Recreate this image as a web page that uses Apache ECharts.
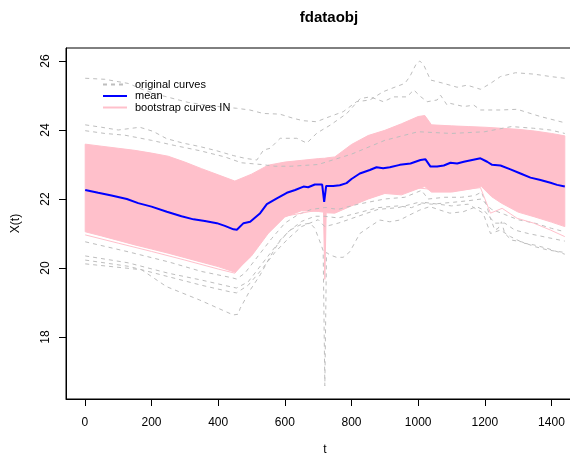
<!DOCTYPE html>
<html><head><meta charset="utf-8">
<script src="https://cdn.jsdelivr.net/npm/echarts@6/dist/echarts.min.js"></script>
<style>html,body{margin:0;padding:0;background:#fff}#c{width:570px;height:455px}</style>
</head><body><div id="c"></div>
<script>
// ---- tick labels ----
const xTicks = [0,200,400,600,800,1000,1200,1400];
const yTicks = [18,20,22,24,26];

// ---- mean curve ----
const meanT = [1,40,80,126,160,200,246,290,326,360,396,420,446,456,476,496,526,546,576,606,631,656,670,690,712,718,724,745,765,785,800,825,855,875,895,915,945,977,1007,1022,1037,1057,1077,1097,1117,1137,1162,1187,1207,1222,1247,1277,1307,1337,1367,1397,1417,1440];
const meanV = [22.26,22.18,22.10,22.00,21.88,21.78,21.63,21.50,21.41,21.36,21.30,21.22,21.12,21.11,21.30,21.34,21.59,21.85,22.02,22.18,22.26,22.36,22.34,22.42,22.42,21.92,22.38,22.38,22.40,22.46,22.58,22.74,22.84,22.92,22.89,22.92,22.99,23.03,23.13,23.15,22.94,22.94,22.97,23.05,23.03,23.08,23.13,23.18,23.08,22.99,22.97,22.86,22.74,22.62,22.55,22.47,22.41,22.36];

// ---- bootstrap band envelope ----
const bandTopT = [1,50,100,150,200,250,300,350,400,450,500,550,600,650,700,716,720,724,750,800,850,900,950,1000,1020,1040,1100,1150,1200,1250,1300,1350,1400,1440];
const bandTopV = [23.59,23.53,23.47,23.41,23.33,23.24,23.07,22.88,22.70,22.52,22.72,22.98,23.07,23.12,23.17,23.18,23.18,23.19,23.22,23.58,23.84,23.99,24.18,24.39,24.42,24.15,24.12,24.10,24.08,24.05,24.02,23.97,23.90,23.83];
const bandBotT = [1,50,100,150,200,250,300,350,400,450,500,550,600,650,700,716,720,724,750,800,850,900,950,1000,1020,1040,1100,1150,1190,1220,1250,1300,1350,1400,1440];
const bandBotV = [21.05,20.93,20.80,20.67,20.55,20.43,20.30,20.17,20.04,19.88,20.35,21.00,21.48,21.66,21.64,21.62,19.67,21.60,21.59,21.80,22.00,22.16,22.12,22.30,22.36,22.20,22.20,22.28,22.36,22.07,21.88,21.62,21.48,21.33,21.20];

// ---- one bootstrap curve that leaves the band ----
const pinkLowT = [1,100,200,300,400,450,500,550,600,700,800,900,1000,1100,1187,1217,1252,1297,1347,1397,1440];
const pinkLowV = [20.96,20.72,20.48,20.23,19.97,19.85,20.40,21.05,21.50,21.68,21.85,22.18,22.32,22.22,22.33,21.59,21.73,21.44,21.30,21.10,20.91];

// ---- original curves (visible ones) ----
const origU1T = [1,60,130,180,230,310,380,455,495,535,585,625,655,695,735,775,815,855,895,935,960,975,995,1005,1017,1037,1077,1117,1147,1187,1217,1247,1292,1347,1397,1440];
const origU1V = [25.50,25.47,25.35,25.15,25.00,24.80,24.70,24.63,24.58,24.48,24.46,24.34,24.27,24.24,24.39,24.53,24.82,24.87,25.11,25.26,25.35,25.55,25.93,26.00,25.88,25.45,25.35,25.24,25.30,25.18,25.35,25.55,25.66,25.62,25.55,25.50];
const origU2T = [1,50,100,165,205,245,295,345,395,445,480,516,536,556,586,636,666,696,736,786,826,856,896,926,966,987,1007,1027,1057,1067,1087,1097,1137,1167,1187,1247,1297,1367,1440];
const origU2V = [24.15,24.08,24.00,24.08,23.96,23.75,23.62,23.52,23.40,23.26,23.18,23.13,23.42,23.47,23.76,23.76,23.62,23.91,24.14,24.48,24.91,24.96,24.82,24.96,24.96,25.16,24.97,24.82,24.87,25.01,24.72,24.77,24.68,24.72,24.58,24.58,24.60,24.39,24.21];
const origU3T = [1,60,120,200,270,345,420,470,530,570,620,700,800,900,1000,1100,1200,1280,1347,1397,1440];
const origU3V = [23.98,23.90,23.85,23.70,23.55,23.40,23.22,23.05,23.00,22.95,22.95,23.00,23.30,23.70,23.95,23.90,23.95,24.10,24.05,24.00,23.90];
const origLaT = [1,130,250,350,440,455,480,520,560,600,640,680,720,760,820,900,960,1010,1030,1080,1130,1170,1190,1205,1215,1230,1240,1250,1260,1280,1310,1350,1390,1440];
const origLaV = [20.76,20.47,20.18,19.90,19.72,19.68,19.85,20.35,20.85,21.30,21.55,21.70,21.75,21.70,21.85,22.00,22.05,22.25,22.00,22.05,22.05,22.10,22.20,21.83,21.49,21.10,21.15,21.34,21.00,20.81,20.76,20.62,20.52,20.45];
const origLbT = [1,130,250,350,440,455,490,530,570,610,650,690,720,760,820,880,940,980,1020,1060,1100,1150,1195,1217,1247,1277,1317,1347,1387,1440];
const origLbV = [20.35,20.15,19.85,19.65,19.45,19.42,19.60,20.10,20.60,21.05,21.35,21.50,21.50,21.45,21.60,21.75,21.80,21.75,21.90,21.85,21.80,21.85,21.59,21.00,21.10,20.91,20.72,20.67,20.57,20.40];
const origLcT = [1,130,250,350,440,455,490,530,570,610,650,700,720,760,820,880,940,1000,1040,1100,1150,1190,1220,1260,1300,1350,1400,1440];
const origLcV = [20.23,20.05,19.75,19.50,19.30,19.28,19.50,19.95,20.45,20.85,21.20,21.40,21.20,21.30,21.50,21.70,21.75,21.90,21.85,21.90,21.95,22.00,21.70,21.55,21.40,21.30,21.15,21.05];
const origLdT = [1,170,245,345,445,460,466,496,526,556,586,616,646,676,690,707,715,720,725,735,755,775,795,825,855,885,915,945,975,1005,1035,1065,1095,1135,1175,1197,1230,1260,1290,1330,1380,1440];
const origLdV = [20.12,19.95,19.46,19.07,18.64,18.66,18.83,19.36,19.80,20.33,20.81,21.10,21.25,21.30,21.15,20.72,20.50,16.58,20.45,20.38,20.31,20.31,20.47,21.00,21.20,21.39,21.34,21.39,21.54,21.68,21.78,21.68,21.59,21.63,21.78,21.68,21.30,21.30,21.10,21.00,20.90,20.78];

const pair = (T, V) => T.map((t, i) => [t, V[i]]);
const FONT = '"Liberation Sans", Arial, Helvetica, sans-serif';

const origCurves = [[origU1T,origU1V],[origU2T,origU2V],[origU3T,origU3V],[origLaT,origLaV],[origLbT,origLbV],[origLcT,origLcV],[origLdT,origLdV]];

const series = [];
origCurves.forEach(([T, V]) => series.push({
  type: 'line', name: 'original curves', data: pair(T, V), symbol: 'none', showSymbol: false,
  lineStyle: { color: '#BEBEBE', width: 1, type: [4, 4] }, itemStyle: { color: '#BEBEBE' }, silent: true
}));
series.push({
  type: 'line', name: 'bootstrap curves IN', data: pair(pinkLowT, pinkLowV), symbol: 'none', showSymbol: false,
  lineStyle: { color: '#FFC0CB', width: 1 }, itemStyle: { color: '#FFC0CB' }, silent: true
});
series.push({
  type: 'custom', name: 'bootstrap band', clip: true, silent: true,
  data: [[bandTopT[0], bandTopV[0]]],
  renderItem: function (params, api) {
    const pts = [];
    bandTopT.forEach((t, i) => pts.push(api.coord([t, bandTopV[i]])));
    for (let i = bandBotT.length - 1; i >= 0; i--) pts.push(api.coord([bandBotT[i], bandBotV[i]]));
    return { type: 'polygon', shape: { points: pts }, style: { fill: '#FFC0CB', stroke: '#FFC0CB', lineWidth: 1 } };
  }
});
series.push({
  type: 'line', name: 'mean', data: pair(meanT, meanV), symbol: 'none', showSymbol: false,
  lineStyle: { color: '#0000FF', width: 2 }, itemStyle: { color: '#0000FF' }, silent: true
});

const chart = echarts.init(document.getElementById('c'), null, { renderer: 'canvas' });
chart.setOption({
  animation: false,
  backgroundColor: '#ffffff',
  title: {
    text: 'fdataobj', left: 324, top: 5, textAlign: 'center',
    textStyle: { fontFamily: FONT, fontSize: 15, fontWeight: 'bold', color: '#000' }
  },
  legend: {
    data: ['original curves', 'mean', 'bootstrap curves IN'],
    orient: 'vertical', left: 97, top: 74, itemWidth: 24, itemHeight: 12, itemGap: 0.5,
    itemStyle: { opacity: 0 },
    textStyle: { fontFamily: FONT, fontSize: 11, color: '#000', padding: [0, 0, 0, 3] },
    selectedMode: false
  },
  grid: { left: 66, top: 48, width: 518, height: 351, outerBoundsMode: 'none', containLabel: false,
    show: true, borderColor: '#000', borderWidth: 1, backgroundColor: 'transparent' },
  xAxis: {
    type: 'value', min: -56.6, max: 1497.6, name: 't', nameLocation: 'middle', nameGap: 45,
    nameTextStyle: { fontFamily: FONT, fontSize: 12, color: '#000' },
    axisLine: { show: true, onZero: false, lineStyle: { color: '#000' } },
    axisTick: { show: true, inside: false, length: 7, customValues: xTicks, lineStyle: { color: '#000' } },
    axisLabel: { customValues: xTicks, margin: 18, fontFamily: FONT, fontSize: 12, color: '#000', formatter: v => String(v) },
    splitLine: { show: false }
  },
  yAxis: {
    type: 'value', min: 16.203, max: 26.377, name: 'X(t)', nameLocation: 'middle', nameGap: 44, nameRotate: 90,
    nameTextStyle: { fontFamily: FONT, fontSize: 12, color: '#000' },
    axisLine: { show: true, onZero: false, lineStyle: { color: '#000' } },
    axisTick: { show: true, inside: false, length: 7, customValues: yTicks, lineStyle: { color: '#000' } },
    axisLabel: { customValues: yTicks, rotate: 90, margin: 14, fontFamily: FONT, fontSize: 12, color: '#000', formatter: v => String(v) },
    splitLine: { show: false }
  },
  series: series
});
</script></body></html>
